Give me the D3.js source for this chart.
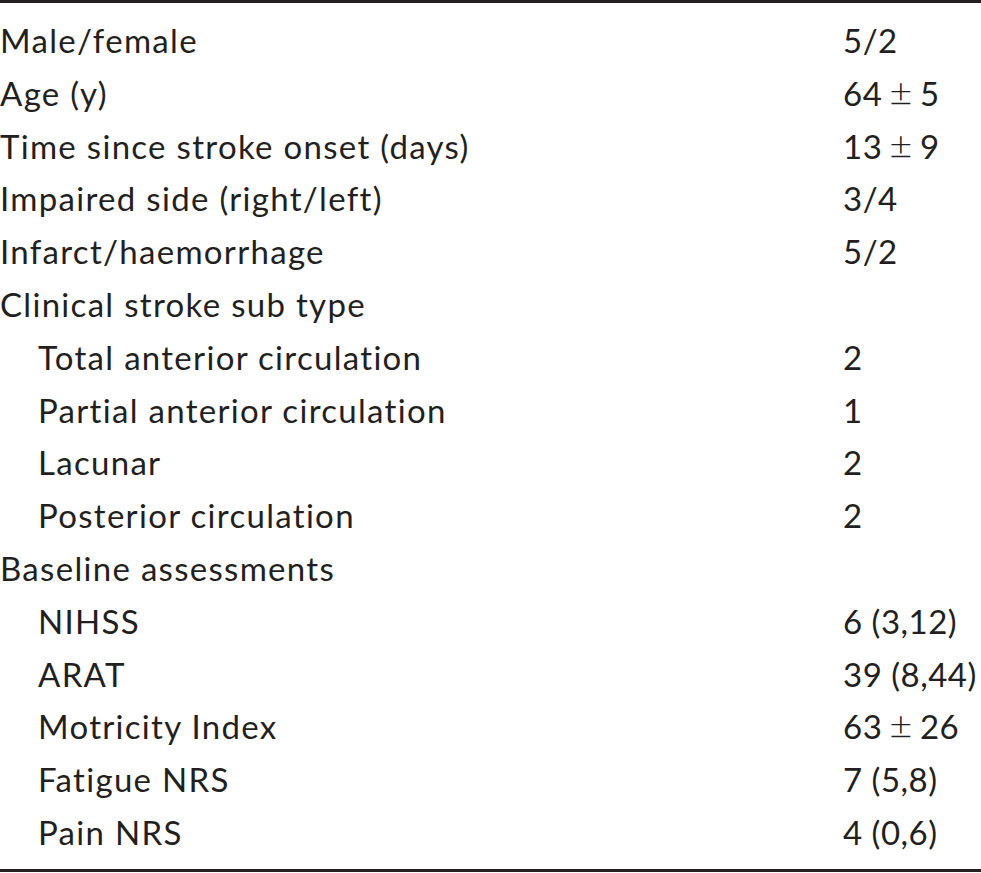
<!DOCTYPE html>
<html>
<head>
<meta charset="utf-8">
<script src="https://cdn.jsdelivr.net/npm/d3@7"></script>
<style>
  body { margin: 0; background: #fff; }
  svg text { font-family: Lato, "Open Sans", sans-serif; fill: #231f20; font-size: 33px; }
  svg tspan.pm { font-size: 40px; font-weight: 300; }
</style>
</head>
<body>
<div id="table"></div>
<script>
// row labels, values and whether the row is a sub-item (indented)
const rowLabels = [
    'Male/female', 'Age (y)', 'Time since stroke onset (days)', 'Impaired side (right/left)',
    'Infarct/haemorrhage', 'Clinical stroke sub type', 'Total anterior circulation',
    'Partial anterior circulation', 'Lacunar', 'Posterior circulation', 'Baseline assessments',
    'NIHSS', 'ARAT', 'Motricity Index', 'Fatigue NRS', 'Pain NRS'
];
const rowValues = [
    '5/2', '64 \u00b1 5', '13 \u00b1 9', '3/4', '5/2', '', '2', '1', '2', '2', '',
    '6 (3,12)', '39 (8,44)', '63 \u00b1 26', '7 (5,8)', '4 (0,6)'
];
const rowIndent = [0, 0, 0, 0, 0, 0, 1, 1, 1, 1, 0, 1, 1, 1, 1, 1];

const width = 981, height = 873;

const svg = d3.select('#table').append('svg')
    .attr('width', width)
    .attr('height', height);

const yScale = d3.scalePoint()
    .domain(d3.range(rowLabels.length))
    .range([53, 845]);

const labelX = d3.scaleLinear().domain([0, 1]).range([0, 38]);
const valueX = 843;

// top and bottom rules
svg.append('line')
    .attr('x1', 0).attr('x2', width)
    .attr('y1', 1.5).attr('y2', 1.5)
    .attr('stroke', '#231f20')
    .attr('stroke-width', 3);

svg.append('line')
    .attr('x1', 0).attr('x2', width)
    .attr('y1', 870.5).attr('y2', 870.5)
    .attr('stroke', '#231f20')
    .attr('stroke-width', 3);

const rows = svg.selectAll('.row')
    .data(rowLabels)
    .enter()
    .append('g')
    .attr('class', 'row')
    .attr('transform', (d, i) => 'translate(0,' + yScale(i) + ')');

rows.append('text')
    .attr('x', (d, i) => labelX(rowIndent[i]))
    .style('letter-spacing', '1.3px')
    .text(d => d);

// values: the ± sign is drawn a bit larger and lighter, like the source
rows.append('text')
    .attr('x', valueX)
    .style('letter-spacing', '0.5px')
    .each(function (d, i) {
        const parts = rowValues[i].split(' \u00b1 ');
        const t = d3.select(this);
        if (parts.length === 2) {
            t.append('tspan').text(parts[0]);
            t.append('tspan').attr('class', 'pm').attr('dx', 7).text('\u00b1');
            t.append('tspan').attr('dx', 7).text(parts[1]);
        } else {
            t.text(rowValues[i]);
        }
    });
</script>
</body>
</html>
